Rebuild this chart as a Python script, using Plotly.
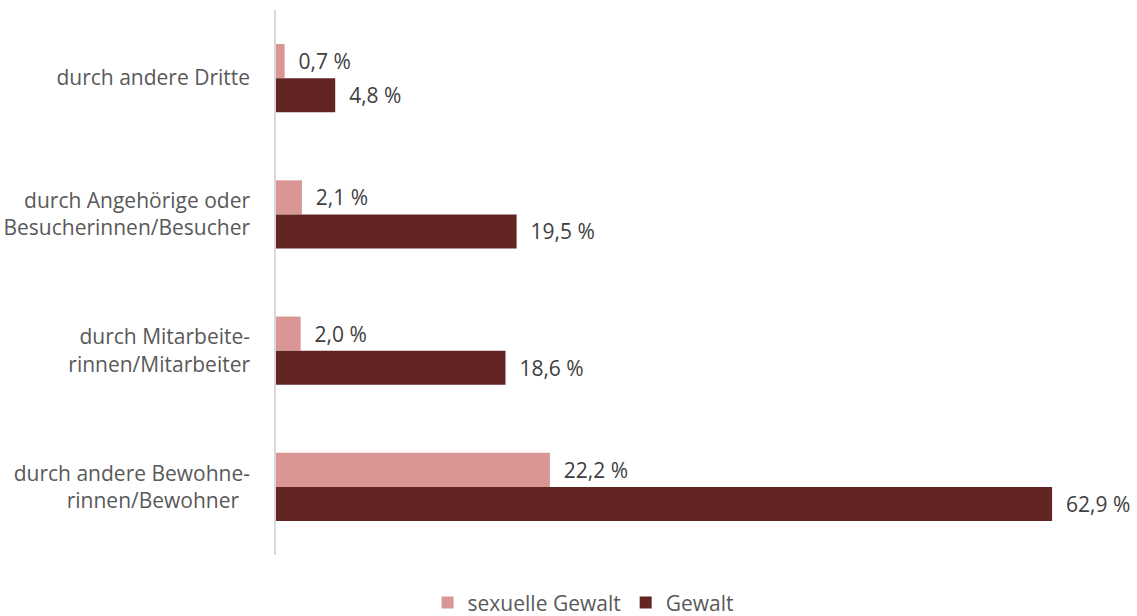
import plotly.graph_objects as go

categories = [
    "durch andere Dritte",
    "durch Angehörige oder<br>Besucherinnen/Besucher",
    "durch Mitarbeite-<br>rinnen/Mitarbeiter",
    "durch andere Bewohne-<br>rinnen/Bewohner\u00a0\u00a0",
]
sexuelle_gewalt = [0.7, 2.1, 2.0, 22.2]
gewalt = [4.8, 19.5, 18.6, 62.9]
series_names = ["sexuelle Gewalt", "Gewalt"]
colors = ["#D99694", "#632523"]

FONT = "Open Sans"
GRAY = "#595959"
SIZE = 21


def fmt(values):
    return ["\u00a0\u00a0" + f"{v:.1f}".replace(".", ",") + " %" for v in values]


fig = go.Figure()
for name, vals, col in zip(series_names, [sexuelle_gewalt, gewalt], colors):
    fig.add_trace(go.Bar(
        y=categories, x=vals, name=name, orientation="h",
        marker=dict(color=col, line=dict(width=0)),
        text=fmt(vals), textposition="outside", cliponaxis=False,
        textfont=dict(family=FONT, size=SIZE, color="#404040"),
    ))

fig.update_layout(
    width=1137, height=616,
    margin=dict(l=276, r=22, t=10, b=61, autoexpand=False),
    barmode="group", bargap=0.5, bargroupgap=0,
    plot_bgcolor="white", paper_bgcolor="white",
    font=dict(family=FONT, size=SIZE, color=GRAY),
    xaxis=dict(range=[0, 68], visible=False, showgrid=False, zeroline=False),
    yaxis=dict(autorange="reversed", showline=True, linecolor="#D9D9D9", linewidth=1.5,
               ticks="", showgrid=False, ticklabelstandoff=20,
               tickfont=dict(family=FONT, size=SIZE, color=GRAY)),
    legend=dict(orientation="h", x=0.366, xanchor="center", y=-0.088, yanchor="middle",
                font=dict(family=FONT, size=SIZE, color=GRAY), itemwidth=30,
                traceorder="normal"),
    showlegend=True,
)

fig.write_html("out.html")
